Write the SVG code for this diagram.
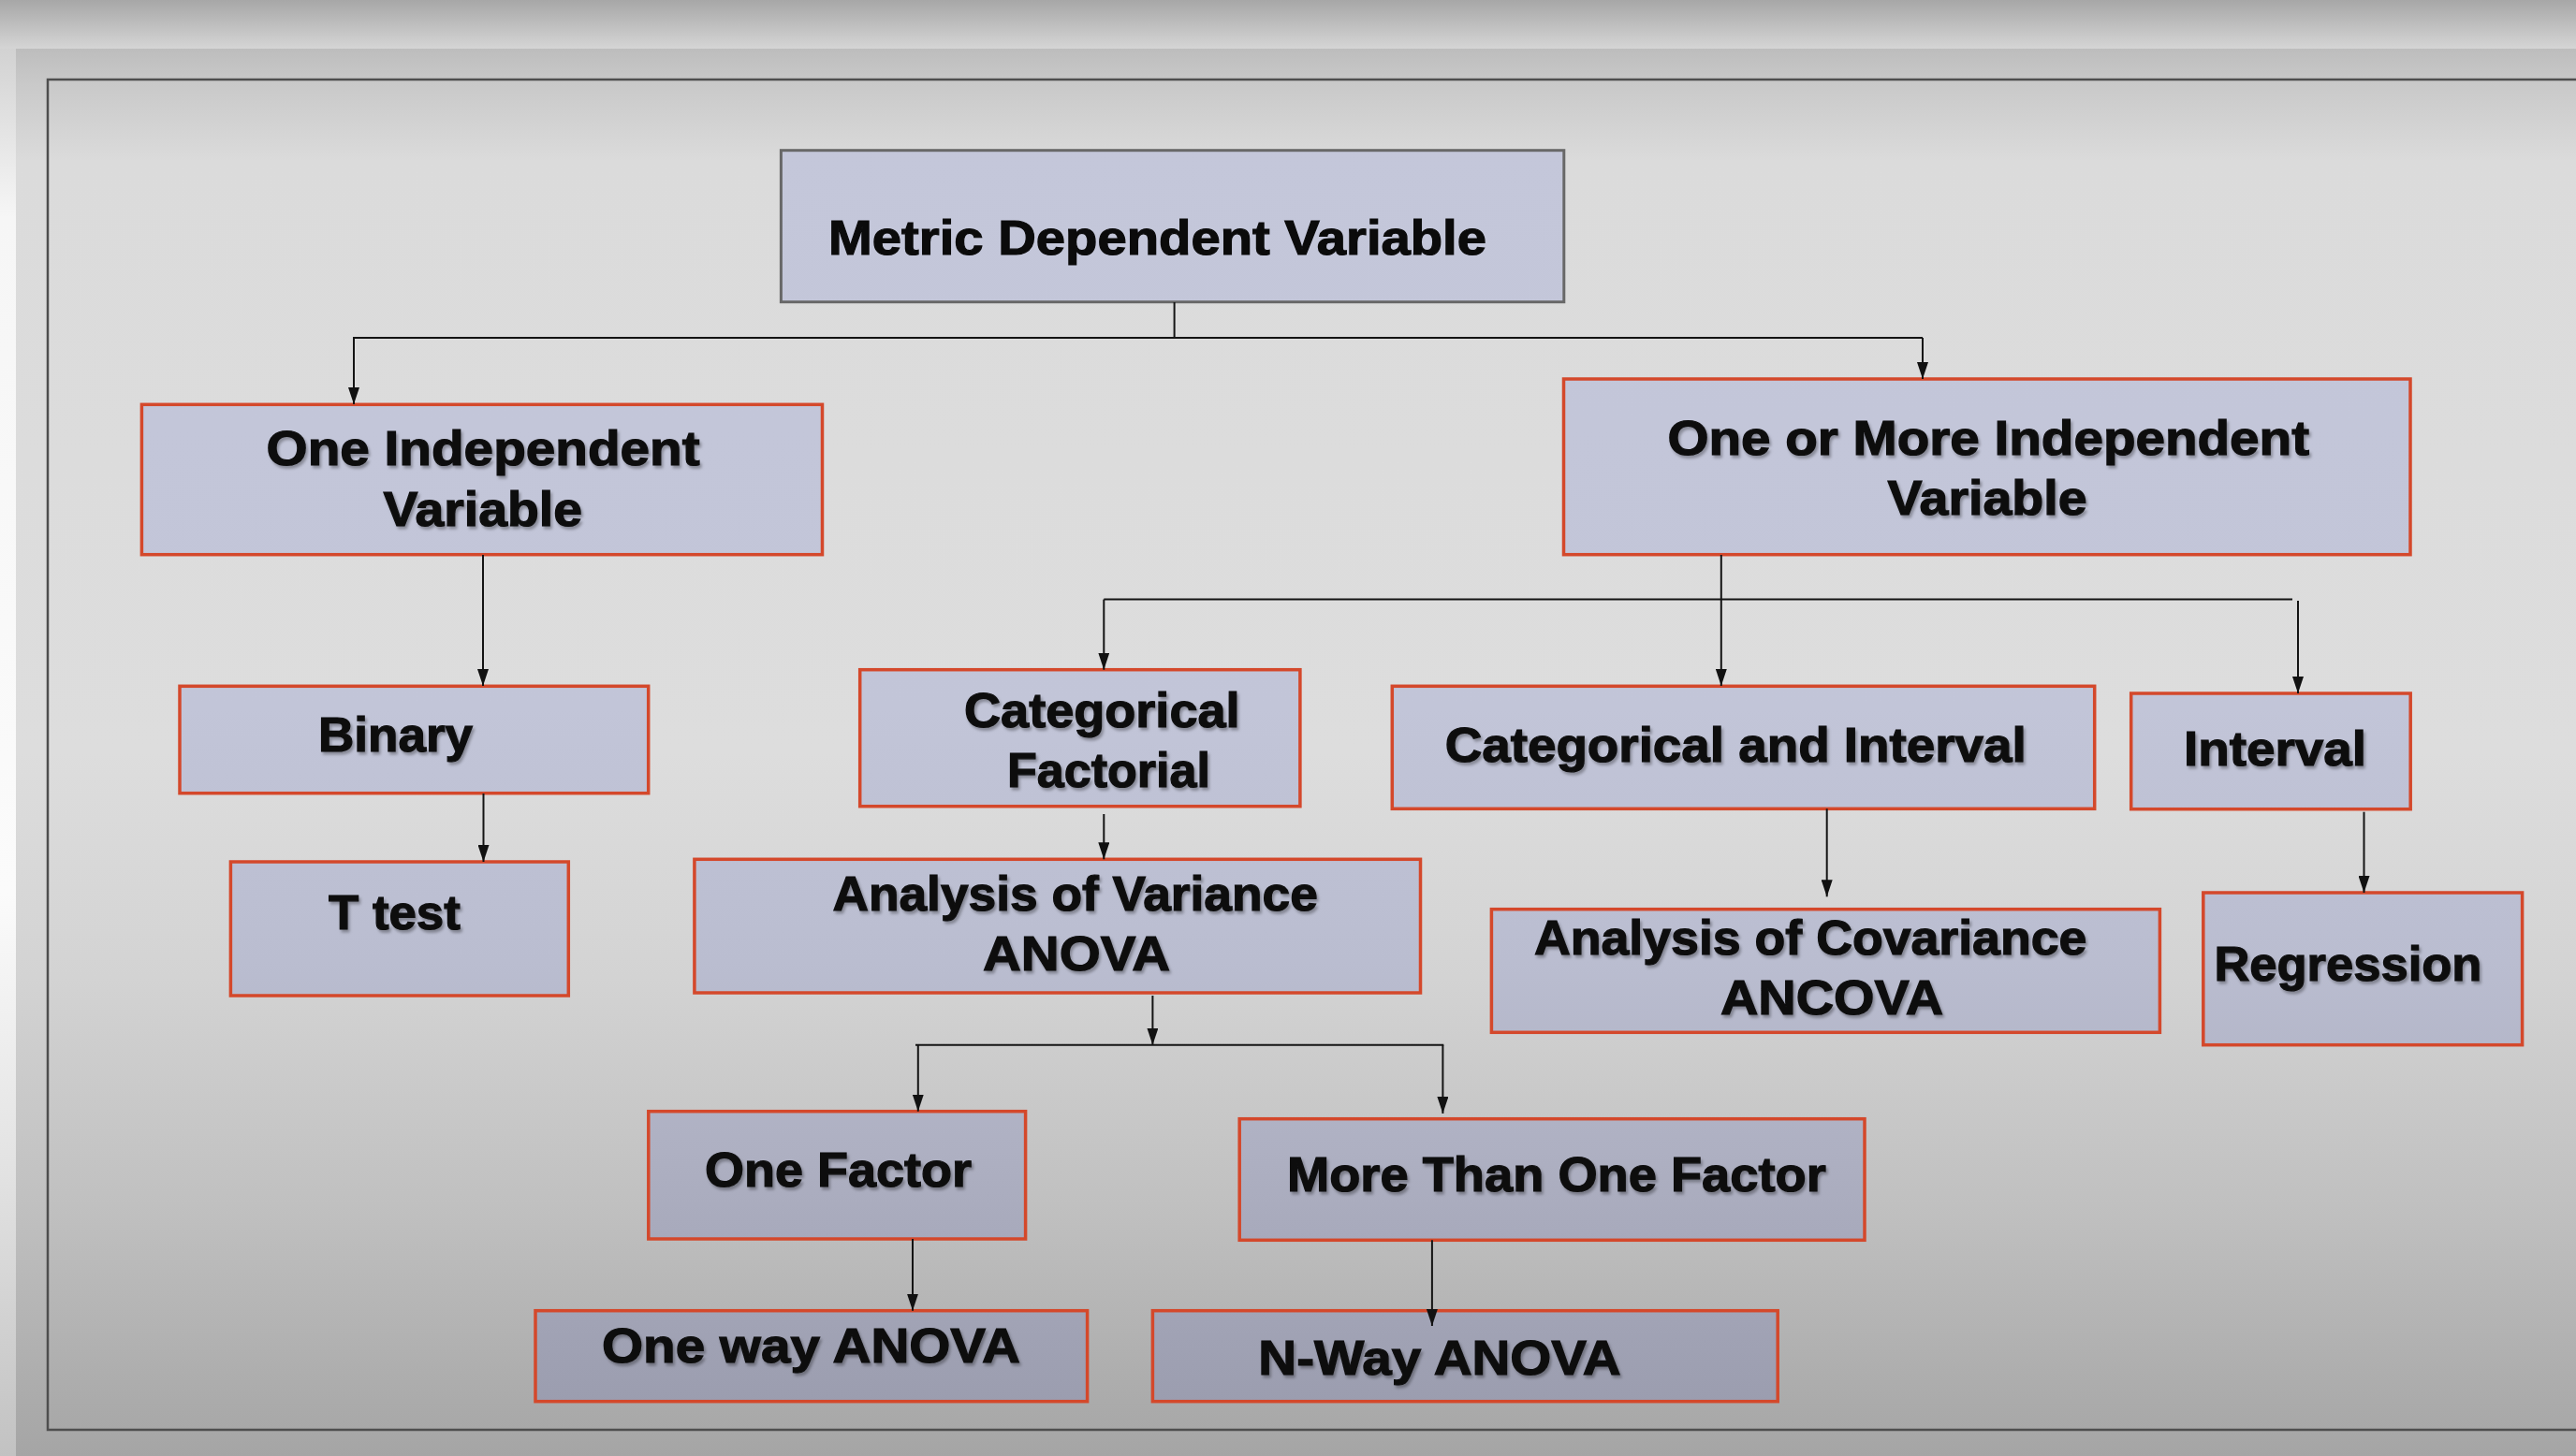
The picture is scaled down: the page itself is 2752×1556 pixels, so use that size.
<svg xmlns="http://www.w3.org/2000/svg" width="2752" height="1556" viewBox="0 0 2752 1556">
  <defs>
    <linearGradient id="topStrip" x1="0" y1="0" x2="0" y2="52" gradientUnits="userSpaceOnUse">
      <stop offset="0" stop-color="#a7a7a7"/>
      <stop offset="1" stop-color="#d5d5d5"/>
    </linearGradient>
    <linearGradient id="leftStrip" x1="0" y1="52" x2="0" y2="1556" gradientUnits="userSpaceOnUse">
      <stop offset="0" stop-color="#d2d2d2"/>
      <stop offset="0.12" stop-color="#f6f6f6"/>
      <stop offset="0.6" stop-color="#fbfbfb"/>
      <stop offset="0.8" stop-color="#e2e2e2"/>
      <stop offset="1" stop-color="#c2c2c2"/>
    </linearGradient>
    <linearGradient id="slideBg" x1="0" y1="52" x2="0" y2="1556" gradientUnits="userSpaceOnUse">
      <stop offset="0" stop-color="#bdbdbd"/>
      <stop offset="0.025" stop-color="#c9c9c9"/>
      <stop offset="0.08" stop-color="#dbdbdb"/>
      <stop offset="0.5" stop-color="#dddddd"/>
      <stop offset="0.66" stop-color="#d3d3d3"/>
      <stop offset="0.83" stop-color="#bfbfbf"/>
      <stop offset="1" stop-color="#a5a5a5"/>
    </linearGradient>
    <linearGradient id="nodeFill" x1="0" y1="150" x2="0" y2="1500" gradientUnits="userSpaceOnUse">
      <stop offset="0" stop-color="#c4c7da"/>
      <stop offset="0.45" stop-color="#c2c5d8"/>
      <stop offset="0.65" stop-color="#babdd0"/>
      <stop offset="0.8" stop-color="#aeb0c2"/>
      <stop offset="1" stop-color="#9b9daf"/>
    </linearGradient>
    <filter id="shadow" x="-5%" y="-20%" width="110%" height="150%">
      <feDropShadow dx="2" dy="3" stdDeviation="1.8" flood-color="#000" flood-opacity="0.3"/>
    </filter>
    <marker id="arrow" viewBox="0 0 18 12" markerWidth="18" markerHeight="12" refX="18" refY="6" orient="auto" markerUnits="userSpaceOnUse">
      <path d="M0,0 L18,6 L0,12 Z" fill="#111"/>
    </marker>
    <style>
      .node rect { fill: url(#nodeFill); stroke: #d4482b; stroke-width: 3.5; }
      .root rect { fill: url(#nodeFill); stroke: #686868; stroke-width: 3; }
      .node text, .root text { font-family: "Liberation Sans", Arial, sans-serif; font-weight: bold; font-size: 52px; fill: #0b0b0b; stroke: #0b0b0b; stroke-width: 1.2; }
      .node text { filter: url(#shadow); }
      .conn line, .conn path { stroke: #141414; stroke-width: 2; fill: none; }
      .arr { marker-end: url(#arrow); }
    </style>
  </defs>

  <!-- background -->
  <rect x="0" y="0" width="2752" height="1556" fill="url(#slideBg)"/>
  <rect x="0" y="0" width="2752" height="52" fill="url(#topStrip)"/>
  <rect x="0" y="52" width="17" height="1504" fill="url(#leftStrip)"/>
  <rect x="51" y="85" width="2760" height="1443" fill="none" stroke="#4e4e4e" stroke-width="2.5"/>

  <!-- nodes -->
  <g id="metric-dependent-variable" class="root">
    <rect x="834.4" y="160.7" width="836.4" height="162"/>
    <text x="885" y="272" textLength="703" lengthAdjust="spacingAndGlyphs">Metric Dependent Variable</text>
  </g>

  <g id="one-independent-variable" class="node">
    <rect x="151.4" y="432.3" width="727.1" height="160.4"/>
    <text x="284.6" y="497.3" textLength="463" lengthAdjust="spacingAndGlyphs">One Independent</text>
    <text x="409.6" y="562.3" textLength="212.4" lengthAdjust="spacingAndGlyphs">Variable</text>
  </g>

  <g id="one-or-more-independent-variable" class="node">
    <rect x="1670.5" y="405" width="904.5" height="187.7"/>
    <text x="1781.5" y="486" textLength="685.5" lengthAdjust="spacingAndGlyphs">One or More Independent</text>
    <text x="2016.6" y="550" textLength="213" lengthAdjust="spacingAndGlyphs">Variable</text>
  </g>

  <g id="binary" class="node">
    <rect x="192" y="733.3" width="500.7" height="114.4"/>
    <text x="340" y="803.3" textLength="165" lengthAdjust="spacingAndGlyphs">Binary</text>
  </g>

  <g id="t-test" class="node">
    <rect x="246.4" y="921" width="360.9" height="143"/>
    <text x="351" y="993.3" textLength="140.7" lengthAdjust="spacingAndGlyphs">T test</text>
  </g>

  <g id="categorical-factorial" class="node">
    <rect x="918.7" y="715.7" width="470.2" height="146"/>
    <text x="1030" y="776.7" textLength="294.6" lengthAdjust="spacingAndGlyphs">Categorical</text>
    <text x="1076" y="840.7" textLength="217" lengthAdjust="spacingAndGlyphs">Factorial</text>
  </g>

  <g id="categorical-and-interval" class="node">
    <rect x="1487.3" y="733.3" width="750.4" height="131"/>
    <text x="1543.7" y="814" textLength="621" lengthAdjust="spacingAndGlyphs">Categorical and Interval</text>
  </g>

  <g id="interval" class="node">
    <rect x="2276.7" y="741" width="298.5" height="123.7"/>
    <text x="2333" y="818.3" textLength="195" lengthAdjust="spacingAndGlyphs">Interval</text>
  </g>

  <g id="anova" class="node">
    <rect x="741.9" y="918.3" width="775.6" height="142.7"/>
    <text x="889.4" y="972.7" textLength="518.4" lengthAdjust="spacingAndGlyphs">Analysis of Variance</text>
    <text x="1050" y="1037.3" textLength="200" lengthAdjust="spacingAndGlyphs">ANOVA</text>
  </g>

  <g id="ancova" class="node">
    <rect x="1593.4" y="971.7" width="714" height="131.6"/>
    <text x="1639" y="1020" textLength="590.4" lengthAdjust="spacingAndGlyphs">Analysis of Covariance</text>
    <text x="1838" y="1084.3" textLength="238" lengthAdjust="spacingAndGlyphs">ANCOVA</text>
  </g>

  <g id="regression" class="node">
    <rect x="2353.8" y="954" width="340.8" height="162.7"/>
    <text x="2365.4" y="1048.3" textLength="286" lengthAdjust="spacingAndGlyphs">Regression</text>
  </g>

  <g id="one-factor" class="node">
    <rect x="692.8" y="1187.7" width="402.8" height="136.3"/>
    <text x="753" y="1268.3" textLength="285" lengthAdjust="spacingAndGlyphs">One Factor</text>
  </g>

  <g id="more-than-one-factor" class="node">
    <rect x="1324.2" y="1195.7" width="667.8" height="129.6"/>
    <text x="1375" y="1272.7" textLength="575.8" lengthAdjust="spacingAndGlyphs">More Than One Factor</text>
  </g>

  <g id="one-way-anova" class="node">
    <rect x="572" y="1400.7" width="589.6" height="97"/>
    <text x="643" y="1456" textLength="446.8" lengthAdjust="spacingAndGlyphs">One way ANOVA</text>
  </g>

  <g id="n-way-anova" class="node">
    <rect x="1231.4" y="1400.7" width="667.8" height="97"/>
    <text x="1344.3" y="1469.3" textLength="387.4" lengthAdjust="spacingAndGlyphs">N-Way ANOVA</text>
  </g>

  <!-- connectors -->
  <g id="connectors" class="conn">
    <line x1="1254.6" y1="323" x2="1254.6" y2="361"/>
    <line x1="377" y1="361" x2="2054" y2="361"/>
    <line class="arr" x1="378" y1="361" x2="378" y2="432"/>
    <line class="arr" x1="2054" y1="361" x2="2054" y2="405"/>

    <line class="arr" x1="516" y1="593" x2="516" y2="733"/>
    <line class="arr" x1="516.5" y1="848" x2="516.5" y2="921"/>

    <line class="arr" x1="1838.8" y1="593" x2="1838.8" y2="733"/>
    <line x1="1179.3" y1="640.6" x2="2449" y2="640.6"/>
    <line class="arr" x1="1179.3" y1="640.6" x2="1179.3" y2="715.7"/>
    <line class="arr" x1="2455" y1="642" x2="2455" y2="741"/>

    <line class="arr" x1="1179.3" y1="870" x2="1179.3" y2="918.3"/>

    <line class="arr" x1="1231.4" y1="1064" x2="1231.4" y2="1116.7"/>
    <line x1="978" y1="1116.7" x2="1542.3" y2="1116.7"/>
    <line class="arr" x1="980.8" y1="1116.7" x2="980.8" y2="1187.7"/>
    <line class="arr" x1="1541.4" y1="1116.7" x2="1541.4" y2="1190"/>

    <line class="arr" x1="975" y1="1324" x2="975" y2="1400.7"/>
    <line class="arr" x1="1529.9" y1="1325.3" x2="1529.9" y2="1417"/>

    <line class="arr" x1="1951.7" y1="864.3" x2="1951.7" y2="958.3"/>
    <line class="arr" x1="2525.5" y1="867.7" x2="2525.5" y2="954"/>
  </g>
</svg>
